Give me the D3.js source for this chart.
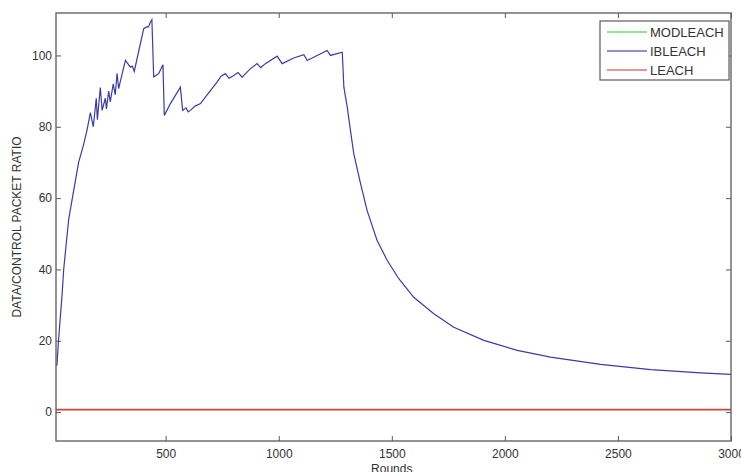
<!DOCTYPE html>
<html>
<head>
<meta charset="utf-8">
<script src="https://cdn.jsdelivr.net/npm/d3@7"></script>
<style>
  body { margin: 0; background: #fff; }
  svg text { font-family: "Liberation Sans", Arial, sans-serif; fill: #333; }
</style>
</head>
<body>
<div id="chart"></div>
<script>
// series values
const ibRounds = [19, 26, 42, 49, 71, 90, 115, 137, 152, 167, 180, 193, 198, 211, 219, 233, 238, 248, 255, 268, 277,
  285, 292, 308, 322, 344, 353, 361, 403, 415, 424, 432, 439, 447, 469, 488, 494, 521, 565, 575, 590, 600, 609, 630, 654,
  690, 727, 745, 764, 780, 801, 820, 838, 875, 904, 920, 941, 993, 1015, 1066, 1111, 1126, 1214, 1229, 1281, 1288, 1303,
  1317, 1332, 1362, 1391, 1435, 1480, 1531, 1597, 1686, 1774, 1907, 2055, 2202, 2423, 2645, 2866, 3000];
const ibValues = [13, 20, 33, 40, 54, 61, 70, 75, 79, 84, 80, 88, 82, 91, 84.6, 88, 85, 90, 87, 92, 89,
  95, 90.7, 95, 98.6, 96.7, 97, 95.5, 107.5, 108, 108, 109.3, 110, 94, 94.9, 97.4, 83.2, 86.5, 91.1, 84.6, 85.3, 84.2, 84.6, 85.8, 86.5,
  89.5, 92.5, 94.2, 94.9, 93.6, 94.4, 95.2, 93.9, 96.3, 97.7, 96.6, 97.7, 99.8, 97.7, 99.3, 100.2, 98.6, 101.4, 100, 100.9, 91.1, 85.5,
  79, 72.4, 64, 56.5, 48.1, 42.5, 37.4, 32.2, 27.6, 23.8, 20.1, 17.3, 15.4, 13.4, 11.9, 11, 10.6];
const flatRounds = [15, 500, 1000, 1500, 2000, 2500, 3000];
const leachValues = [0.7, 0.7, 0.7, 0.7, 0.7, 0.7, 0.7];
const modValues = [0.7, 0.7, 0.7, 0.7, 0.7, 0.7, 0.7];

const xTicks = [500, 1000, 1500, 2000, 2500, 3000];
const yTicks = [0, 20, 40, 60, 80, 100];
const legendNames = ["MODLEACH", "IBLEACH", "LEACH"];
const colors = ["#3fd13f", "#3b3ba6", "#c84a42"];

const width = 741, height = 472;
const margin = {top: 13, right: 10, bottom: 31, left: 56};

const svg = d3.select("#chart").append("svg")
  .attr("width", width).attr("height", height);

const x = d3.scaleLinear().domain([15, 3000]).range([margin.left, width - margin.right]);
const y = d3.scaleLinear().domain([-8.1, 111.9]).range([height - margin.bottom, margin.top]);

const axisColor = "#5a5a5a";
const fmt = d3.format("d");

// bottom axis
svg.append("g")
  .attr("transform", `translate(0,${height - margin.bottom})`)
  .call(d3.axisBottom(x).tickValues(xTicks).tickFormat(fmt).tickSizeInner(-5).tickSizeOuter(0).tickPadding(8))
  .call(g => g.select(".domain").remove())
  .call(g => g.selectAll("line").attr("stroke", axisColor))
  .call(g => g.selectAll("text").attr("font-size", 12).style("fill", "#333"));

// top axis, ticks only
svg.append("g")
  .attr("transform", `translate(0,${margin.top})`)
  .call(d3.axisTop(x).tickValues(xTicks).tickSizeInner(-5).tickSizeOuter(0).tickFormat(""))
  .call(g => g.select(".domain").remove())
  .call(g => g.selectAll("line").attr("stroke", axisColor));

// left axis
svg.append("g")
  .attr("transform", `translate(${margin.left},0)`)
  .call(d3.axisLeft(y).tickValues(yTicks).tickFormat(fmt).tickSizeInner(-5).tickSizeOuter(0).tickPadding(4))
  .call(g => g.select(".domain").remove())
  .call(g => g.selectAll("line").attr("stroke", axisColor))
  .call(g => g.selectAll("text").attr("font-size", 12).style("fill", "#333"));

// right axis, ticks only
svg.append("g")
  .attr("transform", `translate(${width - margin.right},0)`)
  .call(d3.axisRight(y).tickValues(yTicks).tickSizeInner(-5).tickSizeOuter(0).tickFormat(""))
  .call(g => g.select(".domain").remove())
  .call(g => g.selectAll("line").attr("stroke", axisColor));

// lines (MODLEACH sits under LEACH, hidden as in the original)
const line = d3.line().x(d => x(d[0])).y(d => y(d[1]));
const series = [
  {vals: d3.zip(flatRounds, modValues), color: colors[0], w: 0.8},
  {vals: d3.zip(ibRounds, ibValues), color: colors[1], w: 1.2},
  {vals: d3.zip(flatRounds, leachValues), color: colors[2], w: 1.6}
];
svg.append("g").selectAll("path").data(series).join("path")
  .attr("d", d => line(d.vals))
  .attr("fill", "none")
  .attr("stroke", d => d.color)
  .attr("stroke-width", d => d.w);

// box
svg.append("rect")
  .attr("x", margin.left).attr("y", margin.top)
  .attr("width", width - margin.left - margin.right)
  .attr("height", height - margin.top - margin.bottom)
  .attr("fill", "none").attr("stroke", axisColor).attr("stroke-width", 1.3);

// axis titles
svg.append("text")
  .attr("x", x(1500)).attr("y", 473)
  .attr("text-anchor", "middle").attr("font-size", 12)
  .text("Rounds");
svg.append("text")
  .attr("transform", `translate(21,${(margin.top + height - margin.bottom) / 2}) rotate(-90)`)
  .attr("text-anchor", "middle").attr("font-size", 12)
  .text("DATA/CONTROL PACKET RATIO");

// legend
const lg = svg.append("g").attr("transform", "translate(600,21)");
lg.append("rect").attr("width", 129).attr("height", 59)
  .attr("fill", "#fff").attr("stroke", axisColor).attr("stroke-width", 1.2);
legendNames.forEach((name, i) => {
  const yy = 11 + i * 19;
  lg.append("line").attr("x1", 7).attr("x2", 47).attr("y1", yy).attr("y2", yy)
    .attr("stroke", colors[i]).attr("stroke-width", 1.5).attr("opacity", 0.75);
  lg.append("text").attr("x", 50).attr("y", yy).attr("dy", "0.36em")
    .attr("font-size", 13).text(name);
});
</script>
</body>
</html>
